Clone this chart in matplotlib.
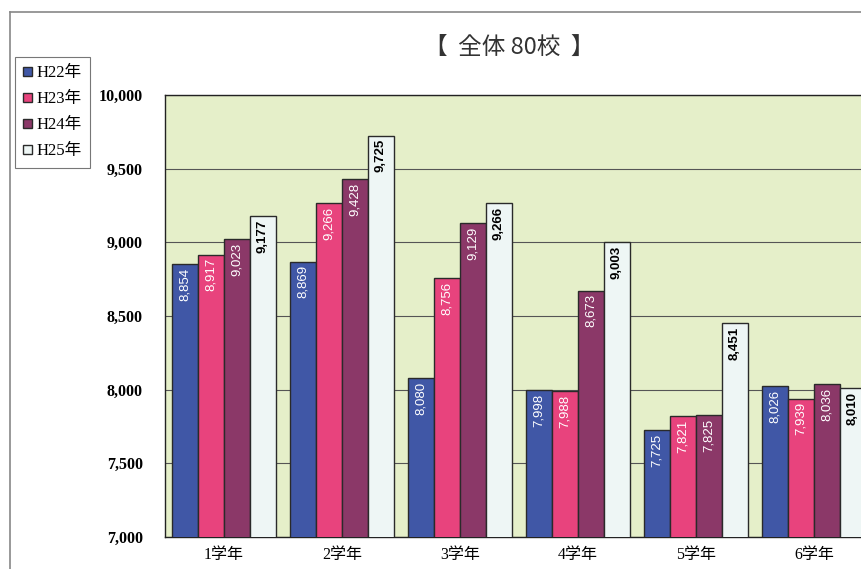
import numpy as np
import matplotlib
matplotlib.use("Agg")
import matplotlib.pyplot as plt
from matplotlib.lines import Line2D

# data
grades = ["1学年", "2学年", "3学年", "4学年", "5学年", "6学年"]
years = ["H22年", "H23年", "H24年", "H25年"]
h22 = [8854, 8869, 8080, 7998, 7725, 8026]
h23 = [8917, 9266, 8756, 7988, 7821, 7939]
h24 = [9023, 9428, 9129, 8673, 7825, 8036]
h25 = [9177, 9725, 9266, 9003, 8451, 8010]
yticks = [7000, 7500, 8000, 8500, 9000, 9500, 10000]

colors = ["#4057a6", "#e8437d", "#8b3868", "#eef6f5"]
label_colors = ["white", "white", "white", "black"]

SERIF = ["Liberation Serif", "Noto Sans CJK JP"]
plt.rcParams["font.family"] = ["DejaVu Sans", "Noto Sans CJK JP"]

fig = plt.figure(figsize=(8.61, 5.69), dpi=100)
ax = fig.add_axes([165 / 861, 32 / 569, 708 / 861, 442 / 569])
ax.set_facecolor("#e5efc9")

x = np.arange(len(grades))
width = 0.22
series = [h22, h23, h24, h25]
for i, vals in enumerate(series):
    pos = x + (i - 1.5) * width
    bars = ax.bar(pos, vals, width, color=colors[i], edgecolor="#2a2a2a",
                  linewidth=1.0, label=years[i], zorder=3)
    for b, v in zip(bars, vals):
        ax.text(b.get_x() + b.get_width() / 2, v - 25, f"{v:,}",
                rotation=90, ha="center", va="top", fontsize=9.5,
                fontweight="bold" if i == 3 else "normal",
                color=label_colors[i], family="Liberation Sans", zorder=4)

ax.set_xlim(-0.5, len(grades) - 0.5)
ax.set_ylim(7000, 10000)
ax.set_yticks(yticks)
ax.set_yticklabels([f"{t:,}" for t in yticks], family=SERIF, fontsize=11.5,
                   fontweight="bold")
ax.set_xticks(x)
ax.set_xticklabels(grades, family=SERIF, fontsize=11.5)
ax.tick_params(axis="y", length=0, pad=16)
ax.tick_params(axis="x", length=0, pad=7)
ax.grid(axis="y", color="#555555", linewidth=0.8, zorder=1)
for s in ax.spines.values():
    s.set_color("#222222")
    s.set_linewidth(1.0)

fig.text(509 / 861, 1 - 47 / 569, "【  全体 80校  】", ha="center", va="center",
         fontsize=17, family=["Noto Sans CJK JP", "DejaVu Sans"], color="#333333")

leg = fig.legend(loc="upper left", bbox_to_anchor=(15 / 861, 1 - 57 / 569),
                 prop={"family": SERIF, "size": 12}, frameon=True, fancybox=False,
                 handlelength=0.5, handleheight=0.5, handletextpad=0.3,
                 labelspacing=0.6, borderpad=0.5, borderaxespad=0)
leg.get_frame().set_edgecolor("#555555")
leg.get_frame().set_linewidth(0.8)

# outer chart frame (cropped scan)
fig.add_artist(Line2D([10 / 861, 10 / 861], [0, 1 - 12 / 569],
                      transform=fig.transFigure, color="#888888", lw=1.2))
fig.add_artist(Line2D([10 / 861, 1], [1 - 12 / 569, 1 - 12 / 569],
                      transform=fig.transFigure, color="#888888", lw=1.2))

fig.savefig("out.png", dpi=100)
